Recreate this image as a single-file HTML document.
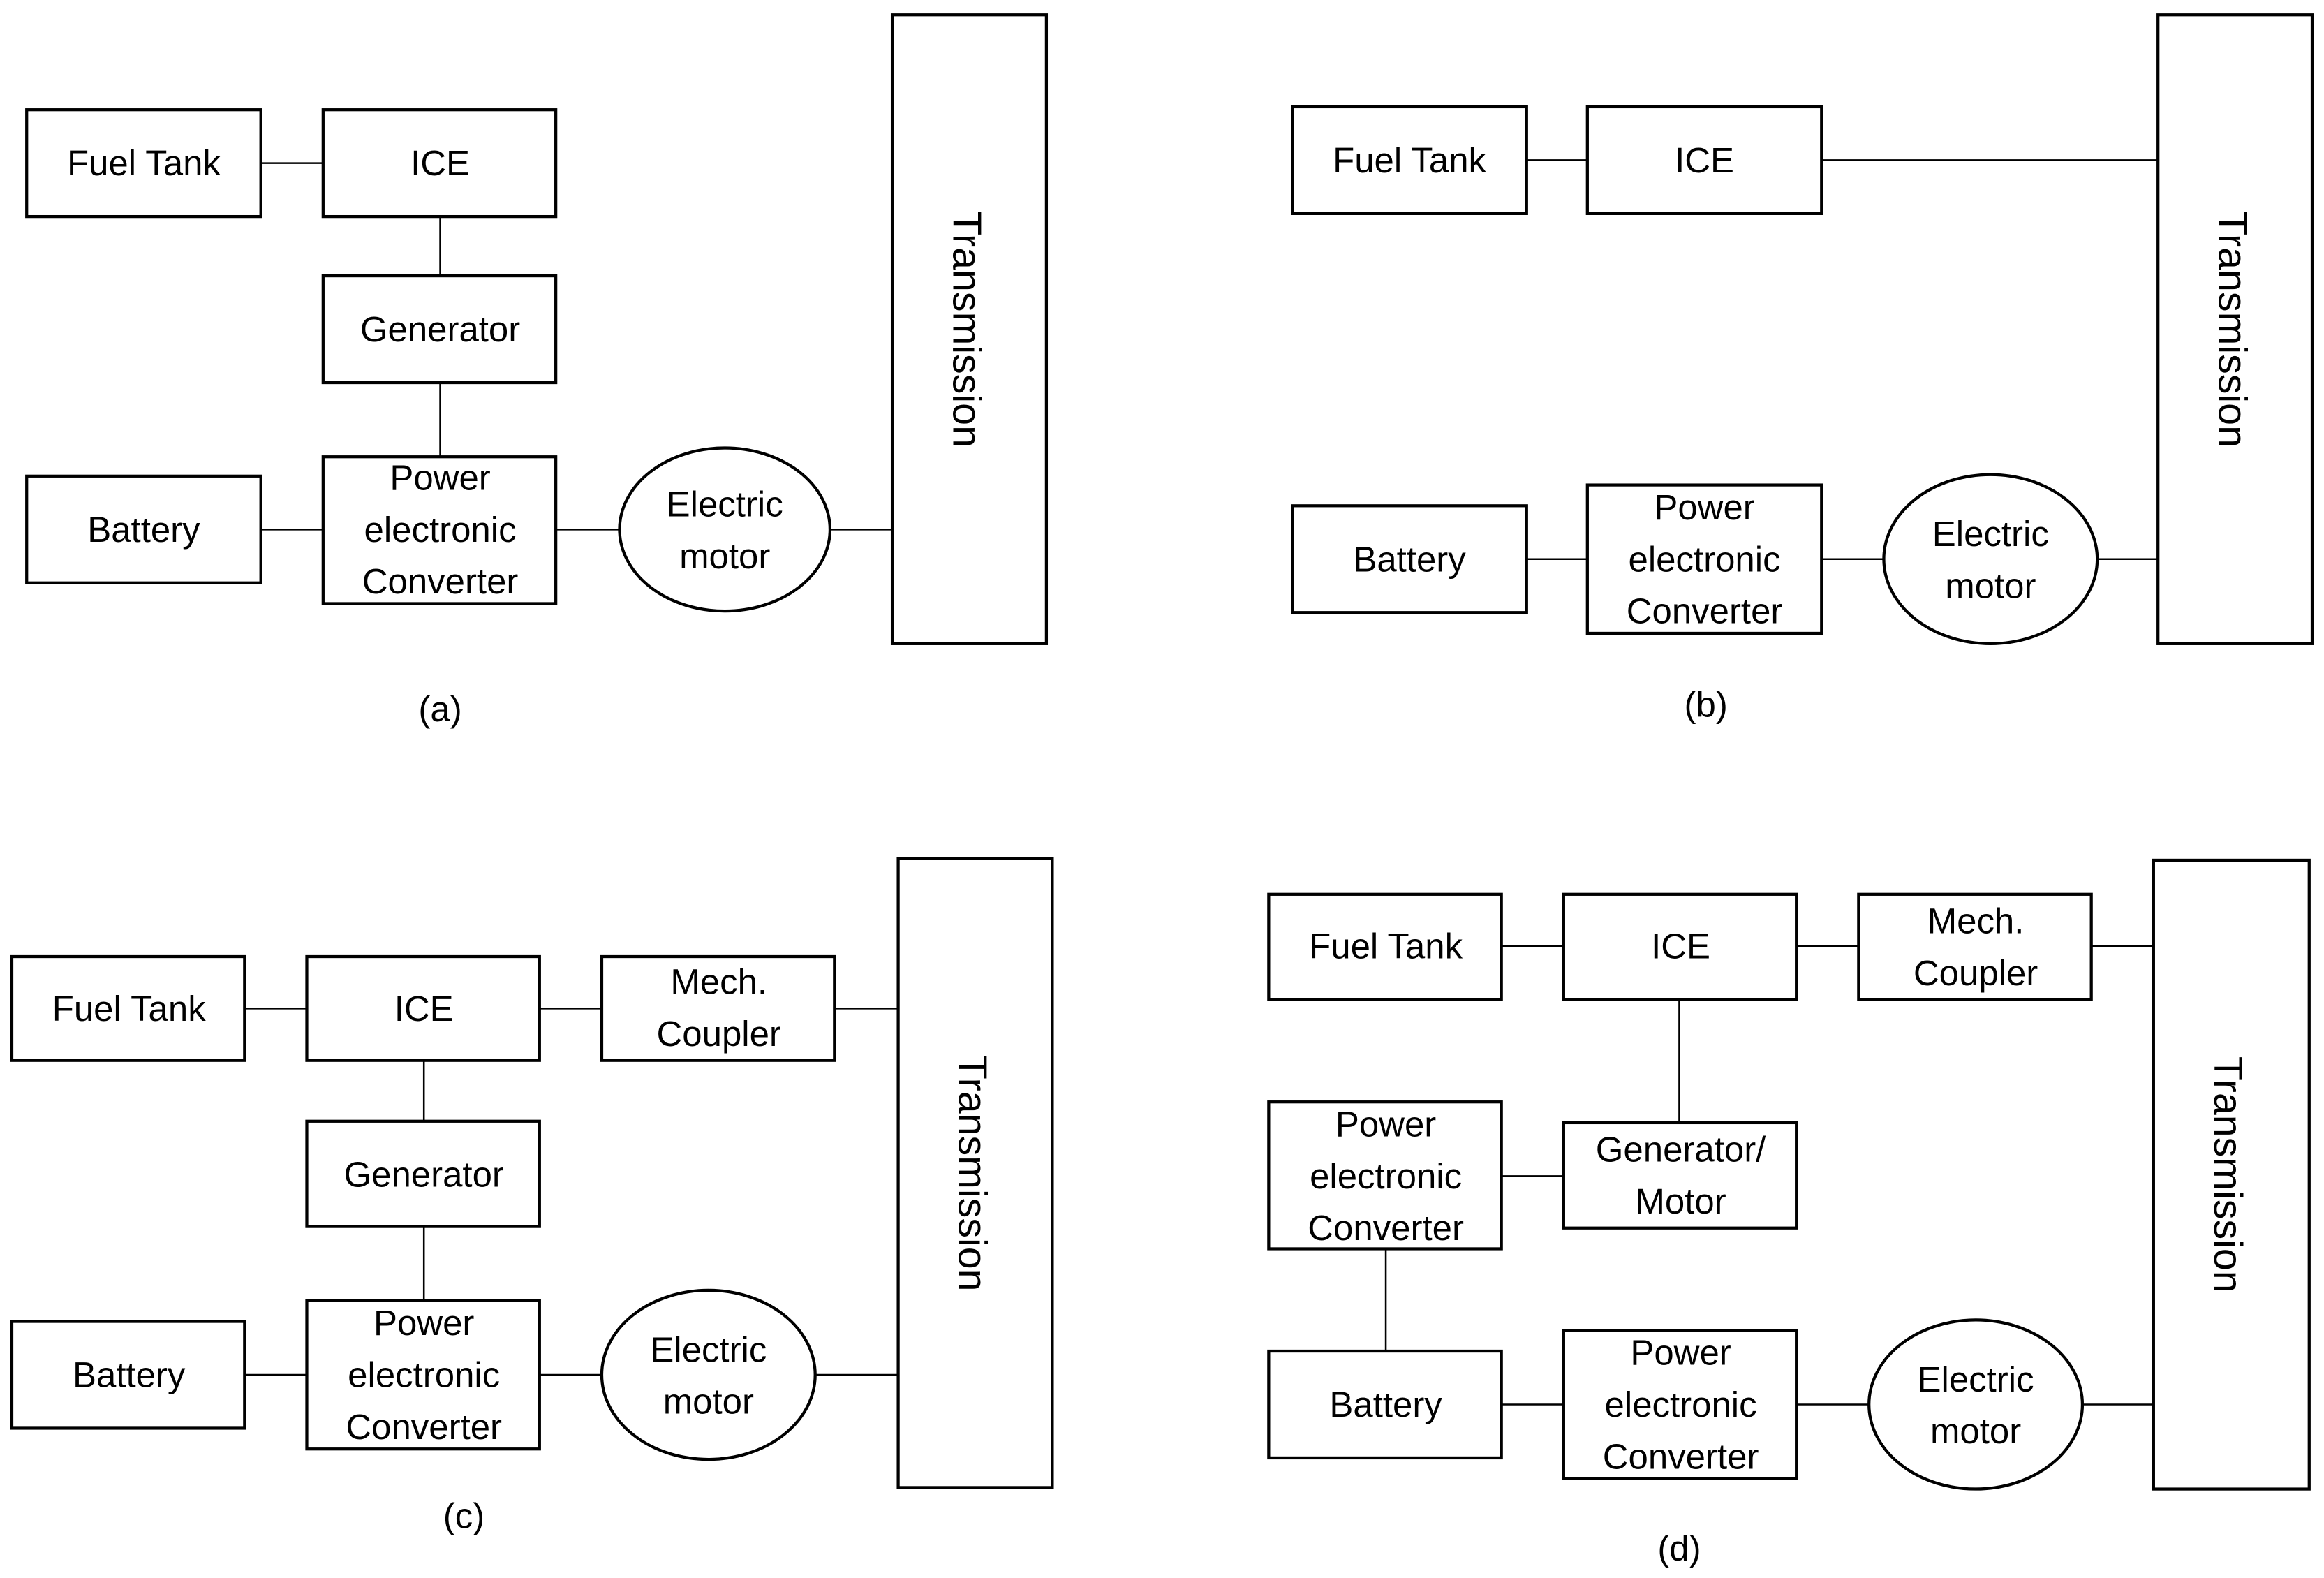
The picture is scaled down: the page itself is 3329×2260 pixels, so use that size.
<!DOCTYPE html>
<html><head><meta charset="utf-8"><style>
html,body{margin:0;padding:0;background:#fff;}
svg{display:block}
text{font-family:"Liberation Sans",sans-serif;font-size:24px;fill:#000;text-anchor:middle;dominant-baseline:central}
text.tr{font-size:27px}
</style></head><body>
<svg width="3329" height="2260" viewBox="0 0 1568 1064" preserveAspectRatio="none" xmlns="http://www.w3.org/2000/svg">
<g fill="none" stroke="#000" stroke-width="2">
<rect x="18" y="74" width="158" height="72"/><rect x="218" y="74" width="157" height="72"/>
<rect x="218" y="186" width="157" height="72"/><rect x="18" y="321" width="158" height="72"/>
<rect x="218" y="308" width="157" height="99"/><ellipse cx="489" cy="357" rx="71" ry="55"/>
<rect x="602" y="10" width="104" height="424"/>
<rect x="872" y="72" width="158" height="72"/><rect x="1071" y="72" width="158" height="72"/>
<rect x="872" y="341" width="158" height="72"/><rect x="1071" y="327" width="158" height="100"/>
<ellipse cx="1343" cy="377" rx="72" ry="57"/><rect x="1456" y="10" width="104" height="424"/>
<rect x="8" y="645" width="157" height="70"/><rect x="207" y="645" width="157" height="70"/>
<rect x="406" y="645" width="157" height="70"/><rect x="207" y="756" width="157" height="71"/>
<rect x="8" y="891" width="157" height="72"/><rect x="207" y="877" width="157" height="100"/>
<ellipse cx="478" cy="927" rx="72" ry="57"/><rect x="606" y="579" width="104" height="424"/>
<rect x="856" y="603" width="157" height="71"/><rect x="1055" y="603" width="157" height="71"/>
<rect x="1254" y="603" width="157" height="71"/><rect x="1453" y="580" width="105" height="424"/>
<rect x="856" y="743" width="157" height="99"/><rect x="1055" y="757" width="157" height="71"/>
<rect x="856" y="911" width="157" height="72"/><rect x="1055" y="897" width="157" height="100"/>
<ellipse cx="1333" cy="947" rx="72" ry="57"/>
</g>
<g stroke="#000" stroke-width="1.2">
<line x1="176" y1="110" x2="218" y2="110"/><line x1="297" y1="146" x2="297" y2="186"/>
<line x1="297" y1="258" x2="297" y2="308"/><line x1="176" y1="357" x2="218" y2="357"/>
<line x1="375" y1="357" x2="418" y2="357"/><line x1="560" y1="357" x2="602" y2="357"/>
<line x1="1030" y1="108" x2="1071" y2="108"/><line x1="1229" y1="108" x2="1456" y2="108"/>
<line x1="1030" y1="377" x2="1071" y2="377"/><line x1="1229" y1="377" x2="1271" y2="377"/>
<line x1="1415" y1="377" x2="1456" y2="377"/>
<line x1="165" y1="680" x2="207" y2="680"/><line x1="364" y1="680" x2="406" y2="680"/>
<line x1="563" y1="680" x2="606" y2="680"/><line x1="286" y1="715" x2="286" y2="756"/>
<line x1="286" y1="827" x2="286" y2="877"/><line x1="165" y1="927" x2="207" y2="927"/>
<line x1="364" y1="927" x2="406" y2="927"/><line x1="550" y1="927" x2="606" y2="927"/>
<line x1="1013" y1="638" x2="1055" y2="638"/><line x1="1212" y1="638" x2="1254" y2="638"/>
<line x1="1411" y1="638" x2="1453" y2="638"/><line x1="1133" y1="674" x2="1133" y2="757"/>
<line x1="1013" y1="793" x2="1055" y2="793"/><line x1="935" y1="842" x2="935" y2="911"/>
<line x1="1013" y1="947" x2="1055" y2="947"/><line x1="1212" y1="947" x2="1261" y2="947"/>
<line x1="1405" y1="947" x2="1453" y2="947"/>
</g>
<text x="97" y="110">Fuel Tank</text><text x="297" y="110">ICE</text>
<text x="297" y="222">Generator</text><text x="97" y="357">Battery</text>
<text x="297" y="322">Power</text><text x="297" y="357">electronic</text><text x="297" y="392">Converter</text>
<text x="489" y="340">Electric</text><text x="489" y="375">motor</text>
<text class="tr" transform="translate(652,222) rotate(90)">Transmission</text>
<text x="297" y="478">(a)</text>
<text x="951" y="108">Fuel Tank</text><text x="1150" y="108">ICE</text>
<text x="951" y="377">Battery</text>
<text x="1150" y="342">Power</text><text x="1150" y="377">electronic</text><text x="1150" y="412">Converter</text>
<text x="1343" y="360">Electric</text><text x="1343" y="395">motor</text>
<text class="tr" transform="translate(1506,222) rotate(90)">Transmission</text>
<text x="1151" y="475">(b)</text>
<text x="87" y="680">Fuel Tank</text><text x="286" y="680">ICE</text>
<text x="485" y="662">Mech.</text><text x="485" y="697">Coupler</text>
<text x="286" y="792">Generator</text><text x="87" y="927">Battery</text>
<text x="286" y="892">Power</text><text x="286" y="927">electronic</text><text x="286" y="962">Converter</text>
<text x="478" y="910">Electric</text><text x="478" y="945">motor</text>
<text class="tr" transform="translate(656,791) rotate(90)">Transmission</text>
<text x="313" y="1022">(c)</text>
<text x="935" y="638">Fuel Tank</text><text x="1134" y="638">ICE</text>
<text x="1333" y="621">Mech.</text><text x="1333" y="656">Coupler</text>
<text x="935" y="758">Power</text><text x="935" y="793">electronic</text><text x="935" y="828">Converter</text>
<text x="1134" y="775">Generator/</text><text x="1134" y="810">Motor</text>
<text x="935" y="947">Battery</text>
<text x="1134" y="912">Power</text><text x="1134" y="947">electronic</text><text x="1134" y="982">Converter</text>
<text x="1333" y="930">Electric</text><text x="1333" y="965">motor</text>
<text class="tr" transform="translate(1503,792) rotate(90)">Transmission</text>
<text x="1133" y="1044">(d)</text>
</svg>
</body></html>
